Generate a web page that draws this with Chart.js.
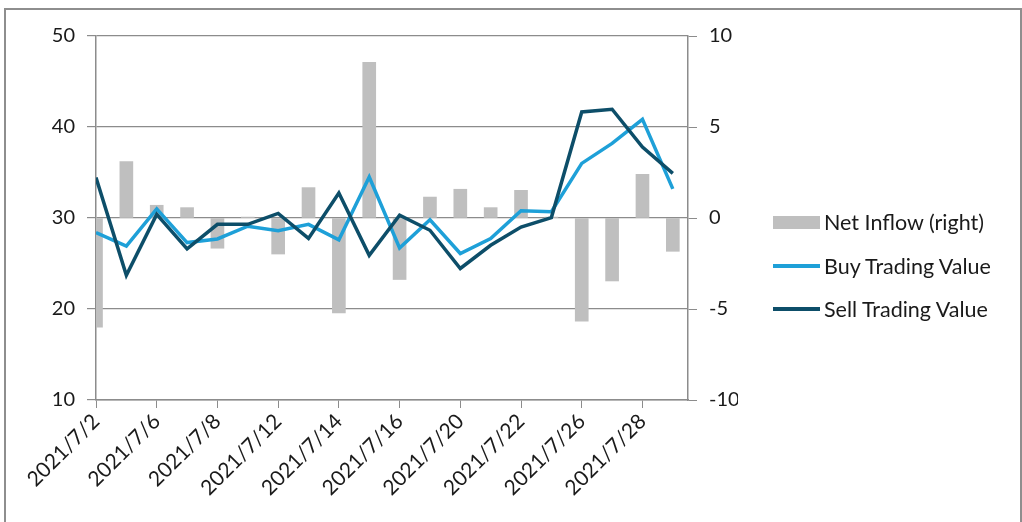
<!DOCTYPE html>
<html>
<head>
<meta charset="utf-8">
<script src="https://cdn.jsdelivr.net/npm/chart.js@4"></script>
<style>
  body { margin: 0; background: #fff; }
  #wrap { position: relative; width: 1022px; height: 522px; overflow: hidden; }
  #frame { position: absolute; left: 4px; top: 8px; width: 1014px; height: 540px; border: 2px solid #8e8e8e; }
  #chart { position: absolute; left: 0; top: 0; }
  .lg { position: absolute; left: 773px; font: 21.5px Lato, "Liberation Sans", sans-serif; color: #1a1a1a; display: flex; align-items: center; }
  .lg span.sw { display: inline-block; width: 47px; margin-right: 4px; }
</style>
</head>
<body>
<div id="wrap">
  <div id="frame"></div>
  <canvas id="chart" width="1022" height="522"></canvas>
  <div class="lg" style="top:209px"><span class="sw" style="height:13px;background:#bfbfbf"></span>Net Inflow (right)</div>
  <div class="lg" style="top:253px"><span class="sw" style="height:4px;background:#1ea0d8"></span>Buy Trading Value</div>
  <div class="lg" style="top:296px"><span class="sw" style="height:4px;background:#0d4e69"></span>Sell Trading Value</div>
</div>
<script>
// 日付（取引日）
const dates = [
  "2021/7/2", "2021/7/5", "2021/7/6", "2021/7/7", "2021/7/8", "2021/7/9",
  "2021/7/12", "2021/7/13", "2021/7/14", "2021/7/15", "2021/7/16",
  "2021/7/19", "2021/7/20", "2021/7/21", "2021/7/22", "2021/7/23",
  "2021/7/26", "2021/7/27", "2021/7/28", "2021/7/29"
];

const netInflow = [
  -6.0, 3.1, 0.7, 0.57, -1.66, 0.05, -1.98, 1.67, -5.22, 8.55,
  -3.38, 1.15, 1.58, 0.57, 1.52, 0.05, -5.67, -3.46, 2.4, -1.83
];

const buyValue = [
  28.4, 26.9, 31.0, 27.3, 27.7, 29.1, 28.6, 29.3, 27.6, 34.5,
  26.7, 29.8, 26.1, 27.75, 30.8, 30.7, 36.0, 38.2, 40.85, 33.2
];

const sellValue = [
  34.45, 23.7, 30.4, 26.6, 29.3, 29.3, 30.5, 27.75, 32.75, 25.9,
  30.3, 28.65, 24.45, 27.0, 29.0, 30.05, 41.65, 41.95, 37.8, 34.9
];

const leftTicks = [10, 20, 30, 40, 50];
const rightTicks = [-10, -5, 0, 5, 10];

const pts = (arr) => arr.map((v, i) => ({ x: i, y: v }));

const tickFont = { family: "Lato, 'Liberation Sans', sans-serif", size: 20 };
const axisGray = "#8c8c8c";

new Chart(document.getElementById("chart").getContext("2d"), {
  type: "bar",
  data: {
    datasets: [
      {
        type: "line",
        label: "Sell Trading Value",
        data: pts(sellValue),
        borderColor: "#0d4e69",
        borderWidth: 3.5,
        pointRadius: 0,
        tension: 0,
        yAxisID: "y",
        order: 1
      },
      {
        type: "line",
        label: "Buy Trading Value",
        data: pts(buyValue),
        borderColor: "#1ea0d8",
        borderWidth: 3.5,
        pointRadius: 0,
        tension: 0,
        yAxisID: "y",
        order: 2
      },
      {
        type: "bar",
        label: "Net Inflow (right)",
        data: pts(netInflow),
        backgroundColor: "#bfbfbf",
        barThickness: 13,
        yAxisID: "y2",
        clip: 0,
        order: 3
      }
    ]
  },
  options: {
    responsive: false,
    animation: false,
    layout: { padding: { left: 0, top: 36, right: 284, bottom: 0 } },
    plugins: { legend: { display: false }, tooltip: { enabled: false } },
    scales: {
      x: {
        type: "linear",
        min: 0,
        max: 19.5,
        offset: false,
        afterBuildTicks: (s) => {
          s.ticks = dates.map((d, i) => ({ value: i })).filter((t) => t.value % 2 === 0);
        },
        afterFit: (s) => { s.height = 122; },
        ticks: {
          autoSkip: false,
          minRotation: 45,
          maxRotation: 45,
          font: { family: tickFont.family, size: 21 },
          color: "#1a1a1a",
          padding: 1,
          callback: (v) => dates[v]
        },
        grid: { offset: false, drawOnChartArea: false, tickLength: 8, color: axisGray },
        border: { color: axisGray, width: 1.5 }
      },
      y: {
        position: "left",
        min: 10,
        max: 50,
        afterBuildTicks: (s) => { s.ticks = leftTicks.map((v) => ({ value: v })); },
        afterFit: (s) => { s.width = 96; },
        ticks: { font: tickFont, color: "#1a1a1a", padding: 12 },
        grid: { color: axisGray, lineWidth: 1.2, tickLength: 9 },
        border: { color: axisGray, width: 1.5 }
      },
      y2: {
        position: "right",
        min: -10,
        max: 10,
        afterBuildTicks: (s) => { s.ticks = rightTicks.map((v) => ({ value: v })); },
        afterFit: (s) => { s.width = 50; },
        ticks: { font: tickFont, color: "#1a1a1a", padding: 12 },
        grid: { drawOnChartArea: false, color: axisGray, tickLength: 9 },
        border: { color: axisGray, width: 1.5 }
      }
    }
  }
});
</script>
</body>
</html>
